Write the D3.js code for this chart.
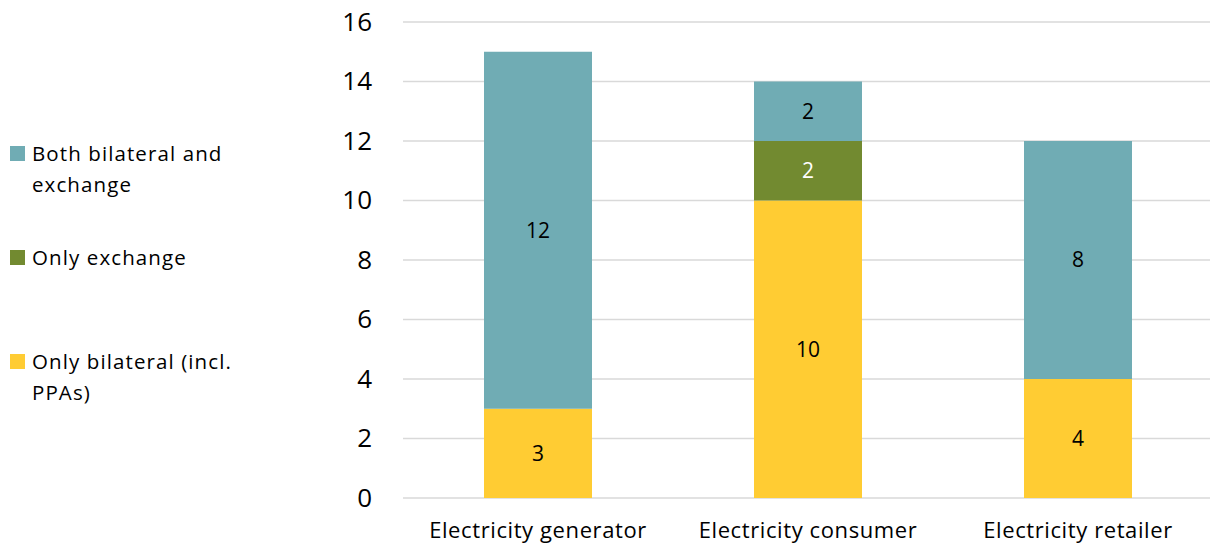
<!DOCTYPE html>
<html>
<head>
<meta charset="utf-8">
<script src="https://cdn.jsdelivr.net/npm/d3@7"></script>
<style>
  body { margin: 0; background: #fff; }
  svg { font-family: "Open Sans", sans-serif; }
</style>
</head>
<body>
<svg id="chart" width="1210" height="546"></svg>
<script>
// Data
var categories = ["Electricity generator", "Electricity consumer", "Electricity retailer"];
var seriesNames = ["Only bilateral (incl. PPAs)", "Only exchange", "Both bilateral and exchange"];
var onlyBilateral = [3, 10, 4];
var onlyExchange = [0, 2, 0];
var bothBilateralExchange = [12, 2, 8];
var yTicks = [0, 2, 4, 6, 8, 10, 12, 14, 16];

var colors = ["#FFCC33", "#728A30", "#70ACB4"];
var labelColors = ["#000", "#fff", "#000"];

// build rows for the stack
var rows = categories.map(function(c, i) {
    return {
        cat: c,
        s0: onlyBilateral[i],
        s1: onlyExchange[i],
        s2: bothBilateralExchange[i]
    };
});

var svg = d3.select("#chart");

var x = d3.scaleBand()
    .domain(categories)
    .range([403, 1213])
    .paddingInner(0.6)
    .paddingOuter(0.3);

var y = d3.scaleLinear()
    .domain([0, 16])
    .range([498, 22]);

// gridlines
svg.append("g")
    .selectAll("line")
    .data(yTicks)
    .enter()
    .append("line")
    .attr("x1", 403)
    .attr("x2", 1210)
    .attr("y1", function(d) { return y(d); })
    .attr("y2", function(d) { return y(d); })
    .attr("stroke", "#D9D9D9")
    .attr("stroke-width", 1.5);

// y axis labels
var yAxis = svg.append("g")
    .attr("transform", "translate(372,0)")
    .call(d3.axisLeft(y).tickValues(yTicks).tickSize(0).tickPadding(0));
yAxis.select(".domain").remove();
yAxis.selectAll("text")
    .attr("font-family", "Open Sans, sans-serif")
    .attr("font-size", 26)
    .attr("fill", "#000");

// x axis labels
var xAxis = svg.append("g")
    .attr("transform", "translate(0,498)")
    .call(d3.axisBottom(x).tickSize(0));
xAxis.select(".domain").remove();
xAxis.selectAll("text")
    .attr("y", 40)
    .attr("dy", 0)
    .attr("font-family", "Open Sans, sans-serif")
    .attr("font-size", 22)
    .attr("letter-spacing", 0.6)
    .attr("fill", "#000");

// stacked bars
var stack = d3.stack().keys(["s0", "s1", "s2"]);
var layers = stack(rows);

var layerG = svg.append("g")
    .selectAll("g")
    .data(layers)
    .enter()
    .append("g")
    .attr("fill", function(d, i) { return colors[i]; });

layerG.selectAll("rect")
    .data(function(d) { return d; })
    .enter()
    .append("rect")
    .attr("x", function(d) { return x(d.data.cat); })
    .attr("width", x.bandwidth())
    .attr("y", function(d) { return y(d[1]); })
    .attr("height", function(d) { return y(d[0]) - y(d[1]); });

// data labels
layers.forEach(function(layer, li) {
    svg.append("g")
        .selectAll("text")
        .data(layer.filter(function(d) { return d[1] - d[0] > 0; }))
        .enter()
        .append("text")
        .attr("x", function(d) { return x(d.data.cat) + x.bandwidth() / 2; })
        .attr("y", function(d) { return y((d[0] + d[1]) / 2); })
        .attr("dy", "0.35em")
        .attr("text-anchor", "middle")
        .attr("font-size", 21)
        .attr("fill", labelColors[li])
        .text(function(d) { return d[1] - d[0]; });
});

// legend (top to bottom: reverse of stack order)
var legendItems = [
    { name: seriesNames[2], color: colors[2], lines: ["Both bilateral and", "exchange"], top: 146 },
    { name: seriesNames[1], color: colors[1], lines: ["Only exchange"], top: 250 },
    { name: seriesNames[0], color: colors[0], lines: ["Only bilateral (incl.", "PPAs)"], top: 354 }
];

var legend = svg.append("g").selectAll("g")
    .data(legendItems)
    .enter()
    .append("g")
    .attr("transform", function(d) { return "translate(10," + d.top + ")"; });

legend.append("rect")
    .attr("width", 15)
    .attr("height", 15)
    .attr("fill", function(d) { return d.color; });

legend.append("text")
    .attr("x", 22)
    .attr("y", 15)
    .attr("font-size", 20.5)
    .attr("letter-spacing", 1.1)
    .attr("fill", "#000")
    .selectAll("tspan")
    .data(function(d) { return d.lines; })
    .enter()
    .append("tspan")
    .attr("x", 22)
    .attr("dy", function(d, i) { return i === 0 ? 0 : 31; })
    .text(function(d) { return d; });
</script>
</body>
</html>
